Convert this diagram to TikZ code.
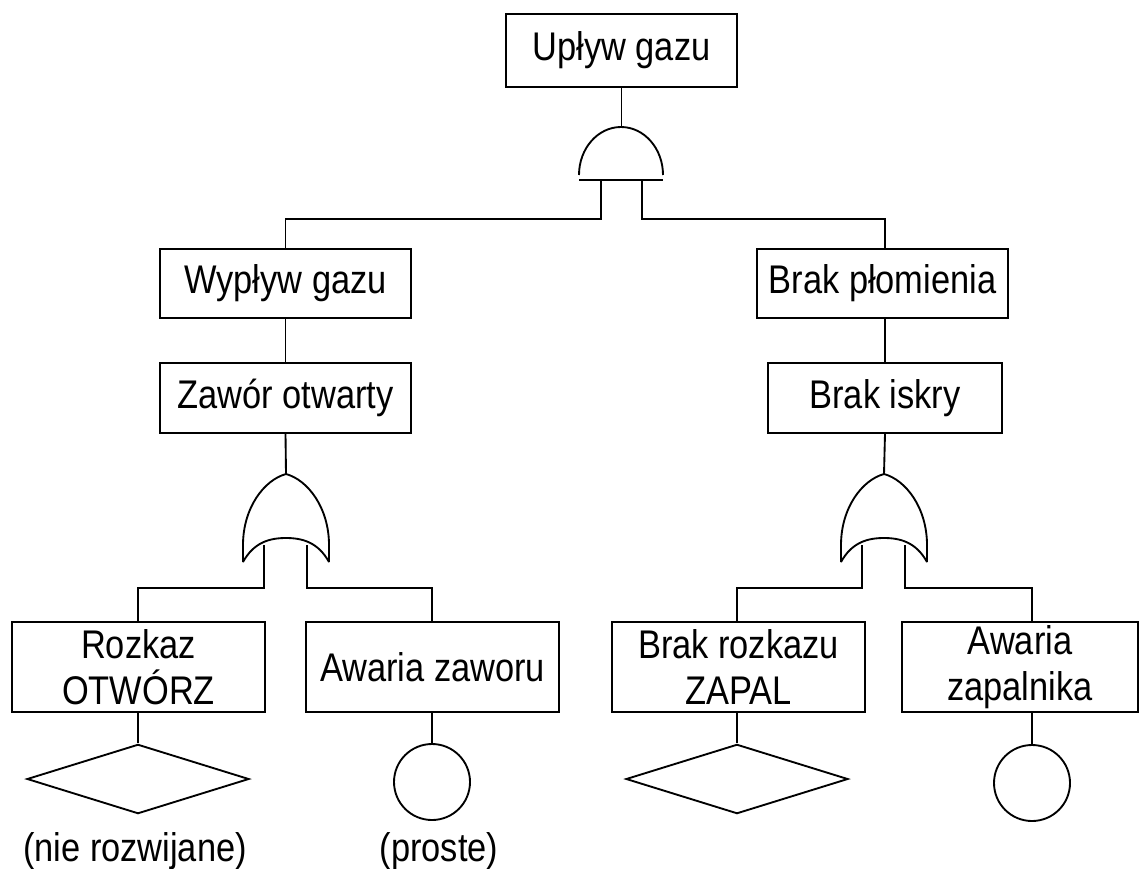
\documentclass[tikz,border=0pt]{standalone}
\usepackage{fontspec}
\setmainfont[FakeStretch=0.86]{Liberation Sans}
\usetikzlibrary{shapes.geometric}
\begin{document}
\begin{tikzpicture}[x=0.75pt,y=-0.75pt,
  line width=1.4pt,
  every node/.style={font=\fontsize{30}{34.5}\selectfont, align=center},
  event/.style={draw, inner sep=0pt, line width=1.4pt},
  lvltwo/.style={event, minimum height=52pt},
  lvlthree/.style={event, minimum width=189.75pt, minimum height=67.5pt},
  undev/.style={draw, diamond, aspect=3.2, minimum width=166.5pt, minimum height=52pt, inner sep=0pt},
  basic/.style={draw, circle, minimum size=57pt, inner sep=0pt},
  note/.style={inner sep=0pt, anchor=base}]
\useasboundingbox (0,0) rectangle (1141,868);

% events
\node[event, minimum width=173.25pt, minimum height=54.75pt] (top) at (621.5,50.5) {Upływ gazu};
\node[lvltwo, minimum width=188.25pt] (wyp) at (285.5,283.5) {Wypływ gazu};
\node[lvltwo, minimum width=188.25pt] (brp) at (882.5,283.5) {Brak płomienia};
\node[lvltwo, minimum width=188.25pt] (zaw) at (285.5,398) {Zawór otwarty};
\node[lvltwo, minimum width=175.5pt] (isk) at (885,398) {Brak iskry};
\node[lvlthree] (rozk) at (138.5,667) {Rozkaz\\OTWÓRZ};
\node[lvlthree] (awz) at (432.5,667) {Awaria zaworu};
\node[lvlthree] (brz) at (738.5,667) {Brak rozkazu\\ZAPAL};
\node[lvlthree, minimum width=177pt] (awp) at (1020,667) {Awaria\\zapalnika};

% undeveloped and basic events
\node[undev] (d1) at (138,779) {};
\node[basic] (c1) at (432,782) {};
\node[undev] (d2) at (737,779) {};
\node[basic] (c2) at (1032,783) {};
\node[note] (n1) at (135,861) {(nie rozwijane)};
\node[note] (n2) at (439,861) {(proste)};

% AND gate
\coordinate (andT) at (621.5,127);
\coordinate (andA) at (601,180);
\coordinate (andB) at (642,180);
\coordinate (rightline) at (885,0);
\draw (579,175) arc[start angle=180, end angle=0, x radius=31.5pt, y radius=36pt];
\draw (579,180) -- (663,180);
\draw (top.south) -- (andT);
\draw (andA) -- (601,219) -| (wyp.north);
\draw (andB) -- (642,219) -| (brp.north -| rightline);

% OR gates
\foreach \g/\cx in {orL/286, orR/884}{
  \coordinate (\g T) at (\cx,474);
  \draw (\cx-43,562) -- (\cx-43,545) .. controls (\cx-43,508) and (\cx-22,480) .. (\g T)
        .. controls (\cx+22,480) and (\cx+43,508) .. (\cx+43,545) -- (\cx+43,562);
  \draw (\cx-43,562) .. controls (\cx-32,542) and (\cx-16,538) .. (\cx,538)
        .. controls (\cx+16,538) and (\cx+32,542) .. (\cx+43,562);
  \coordinate (\g A) at (\cx-22,545);
  \coordinate (\g B) at (\cx+21,545);
}
\draw (zaw.south) -- (orLT);
\draw (isk.south) -- (orRT);
\draw (orLA) -- (264,588) -| (d1.north |- rozk.north);
\draw (orLB) -- (307,588) -| (c1.north |- awz.north);
\draw (orRA) -- (862,588) -| (d2.north |- brz.north);
\draw (orRB) -- (905,588) -| (c2.north |- awp.north);

\draw (wyp.south) -- (zaw.north);
\draw (brp.south -| rightline) -- (isk.north -| rightline);
\draw (rozk.south -| d1.north) -- (d1.north);
\draw (awz.south -| c1.north) -- (c1.north);
\draw (brz.south -| d2.north) -- (d2.north);
\draw (awp.south -| c2.north) -- (c2.north);
\end{tikzpicture}
\end{document}
